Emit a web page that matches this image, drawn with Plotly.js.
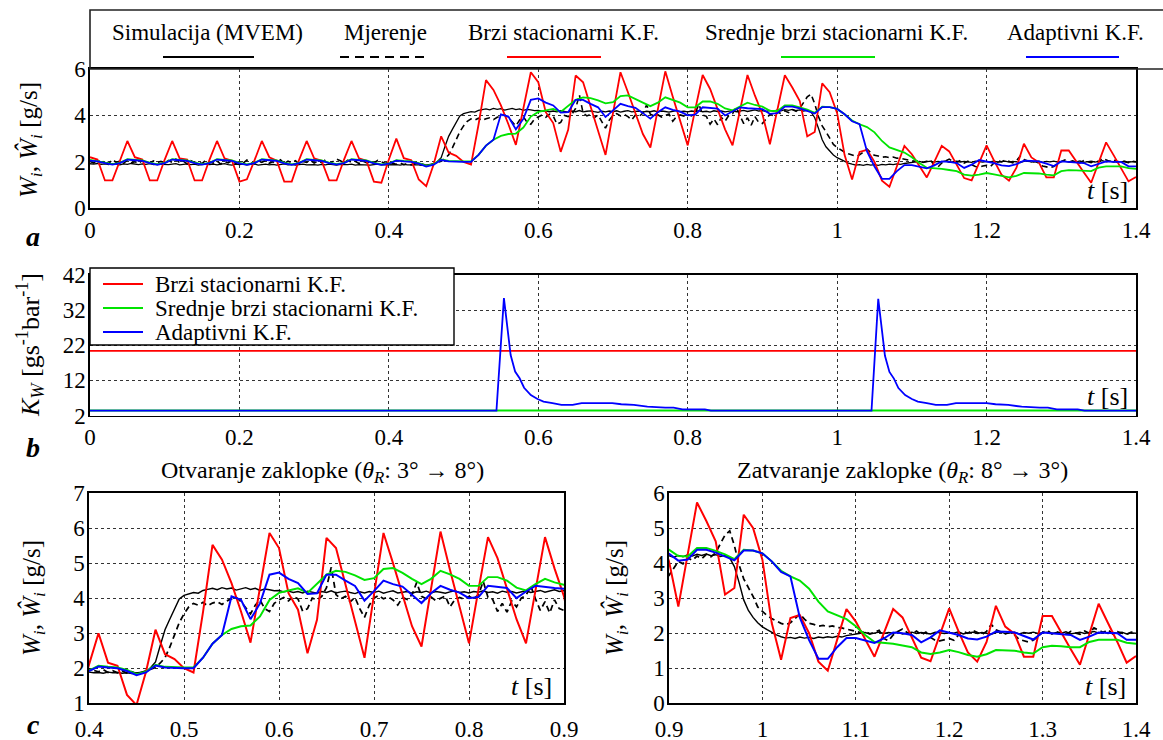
<!DOCTYPE html>
<html><head><meta charset="utf-8">
<script src="https://cdn.plot.ly/plotly-3.0.1.min.js"></script>
<style>html,body{margin:0;padding:0;background:#fff;} #chart{width:1163px;height:740px;}</style>
</head><body><div id="chart"></div>
<script>
// ---------- DATA ----------
// Simulation (MVEM), sampled every 0.005 s from t = 0 to 1.4 s
const simMVEM = [
1.92,1.90,1.93,1.89,1.91,1.88,1.92,1.90,1.87,1.91,1.89,1.93,1.90,1.88,1.91,1.89,1.92,1.88,1.90,1.89,
1.91,1.88,1.90,1.92,1.87,1.89,1.91,1.88,1.90,1.86,1.89,1.91,1.88,1.90,1.87,1.89,1.92,1.88,1.86,1.90,
1.88,1.90,1.87,1.89,1.91,1.86,1.88,1.90,1.87,1.89,1.86,1.88,1.91,1.87,1.89,1.86,1.88,1.90,1.87,1.89,
1.88,1.86,1.89,1.87,1.90,1.88,1.86,1.89,1.87,1.88,1.90,1.86,1.88,1.87,1.89,1.86,1.88,1.90,1.87,1.88,
1.89,1.87,1.88,1.86,1.89,1.87,1.88,1.86,1.87,1.85,1.86,1.88,1.90,2.02,2.18,2.65,3.10,3.40,3.70,3.98,
4.08,4.12,4.16,4.14,4.22,4.25,4.28,4.24,4.30,4.26,4.29,4.23,4.27,4.30,4.25,4.28,4.22,4.26,4.24,4.21,
4.22,4.18,4.20,4.16,4.19,4.15,4.20,4.17,4.14,4.19,4.16,4.21,4.15,4.18,4.20,4.16,4.13,4.18,4.15,4.19,
4.16,4.20,4.14,4.18,4.21,4.15,4.17,4.19,4.14,4.18,4.16,4.20,4.15,4.19,4.17,4.14,4.18,4.21,4.16,4.18,
4.15,4.19,4.17,4.21,4.16,4.18,4.14,4.20,4.17,4.19,4.15,4.18,4.21,4.16,4.19,4.22,4.17,4.20,4.24,4.19,
4.21,4.17,4.22,4.18,4.24,4.20,4.25,4.22,4.26,4.21,4.24,4.19,4.22,4.15,3.90,3.45,2.95,2.65,2.45,2.30,
2.18,2.10,2.02,1.95,1.90,1.86,1.88,1.85,1.89,1.86,1.88,1.85,1.89,1.87,1.90,1.88,1.91,1.89,1.93,1.95,
1.97,1.99,2.02,1.98,2.01,2.03,1.99,2.02,2.00,2.04,1.98,2.01,2.03,1.99,2.02,2.00,1.98,2.03,2.01,1.99,
2.02,2.00,2.04,1.98,2.01,2.03,1.99,2.02,2.00,1.97,2.02,2.04,1.99,2.01,2.03,1.98,2.02,2.00,2.03,1.99,
2.01,2.03,1.99,2.02,2.00,2.04,1.98,2.01,2.03,1.99,2.02,2.05,2.00,2.03,1.99,2.02,2.00,2.03,1.98,2.01,
2.00];
// Measurement (Mjerenje), sampled every 0.005 s
const measured = [
2.02,1.95,2.08,1.97,2.05,1.92,2.10,1.98,2.03,1.94,2.07,1.96,2.01,1.93,2.06,1.99,1.95,2.04,1.97,2.02,
1.94,2.06,1.98,2.12,1.96,2.03,1.91,2.05,1.97,2.00,1.93,2.07,1.99,1.95,2.04,1.90,2.02,1.96,2.05,1.93,
2.01,1.95,2.08,1.97,1.92,2.04,1.98,2.06,1.94,2.00,1.96,2.09,1.93,2.03,1.97,2.05,1.91,2.02,1.98,2.06,
1.95,2.03,1.97,2.08,1.94,2.01,2.12,2.05,1.96,2.07,1.98,2.02,1.93,2.04,1.97,2.00,1.95,2.06,1.99,1.94,
1.98,1.93,1.90,1.96,1.88,1.93,1.87,1.92,1.86,1.90,1.85,1.88,1.92,1.96,2.02,2.15,2.30,2.60,2.95,3.30,
3.55,3.75,3.85,3.80,3.88,3.78,3.86,3.90,3.82,3.92,3.98,4.02,3.90,3.72,3.55,3.80,3.95,3.70,3.62,3.85,
3.95,4.02,3.92,4.05,3.98,3.62,3.70,4.00,3.95,4.05,4.30,4.88,4.10,3.98,4.05,3.90,4.02,3.70,3.45,3.80,
4.00,4.08,3.98,4.04,3.95,3.80,4.02,3.96,4.10,4.45,4.05,3.98,4.03,3.93,4.00,4.06,3.75,3.95,4.02,3.97,
4.05,3.98,4.10,4.48,4.02,3.96,3.62,3.85,3.60,3.92,3.75,4.00,4.08,4.35,3.98,3.65,3.90,3.58,3.95,3.70,
3.65,3.85,4.05,3.98,4.15,4.08,4.20,4.12,4.25,4.18,4.30,4.55,4.80,4.92,4.50,3.95,3.55,3.30,3.05,2.75,
2.62,2.50,2.42,2.35,2.28,2.24,2.30,2.42,2.55,2.40,2.28,2.25,2.20,2.22,2.18,2.21,2.16,2.15,2.12,2.10,
2.06,2.02,2.05,1.98,2.03,2.08,1.85,1.78,1.95,2.05,2.12,2.02,1.98,2.06,1.95,2.03,1.88,1.80,1.78,1.82,
1.85,1.80,1.95,2.05,2.00,2.08,2.02,1.96,2.05,2.25,2.10,2.03,1.98,2.02,1.95,1.82,1.78,1.75,1.80,1.92,
2.02,2.08,1.98,2.04,2.00,1.96,2.05,2.02,1.97,2.06,2.00,2.15,2.08,2.02,2.10,1.98,2.04,2.00,1.97,2.03,
2.00];
// Fast stationary KF estimate, every 0.01 s
const fastKF = [
2.2,2.1,1.2,1.2,2.05,2.9,2.2,2.1,1.2,1.2,
2.1,2.9,2.15,2.1,1.2,1.2,2.1,2.9,2.15,2.05,
1.15,1.25,2.05,2.9,2.2,2.05,1.15,1.15,2.1,2.9,
2.15,2.05,1.2,1.2,2.1,2.9,2.15,2.05,1.15,1.1,
2.1,3.0,2.16,2.07,1.24,0.95,1.9,3.1,2.4,2.26,
2.0,1.88,3.6,5.52,5.1,4.43,3.62,2.73,4.3,5.86,
5.43,4.14,3.67,2.43,3.38,5.72,5.43,4.4,3.35,2.3,
4.1,5.86,5.0,4.1,3.2,2.62,4.25,5.9,4.8,3.75,
2.71,4.25,5.74,5.14,4.3,3.4,2.71,4.25,5.74,4.85,
4.05,2.76,4.2,5.73,5.2,4.62,3.1,3.29,5.38,5.0,
4.1,2.29,1.24,2.43,2.52,2.0,1.19,0.93,1.81,2.69,
2.33,1.85,1.33,2.0,2.69,2.45,1.85,1.3,1.2,1.95,
2.71,2.05,1.45,1.19,1.75,2.78,2.19,1.98,1.33,1.33,
2.49,2.49,2.0,1.55,1.1,2.0,2.84,2.29,1.75,1.16,
1.35];
// Medium-fast stationary KF estimate, every 0.01 s
const mediumKF = [
2.08,2.04,1.97,1.90,1.96,2.12,2.09,2.06,1.97,1.89,
1.96,2.12,2.09,2.06,1.97,1.90,1.96,2.12,2.09,2.06,
1.96,1.89,1.96,2.12,2.09,2.06,1.96,1.89,1.96,2.12,
2.09,2.06,1.97,1.90,1.96,2.12,2.09,2.06,1.96,1.89,
1.93,2.07,2.04,2.02,1.95,1.83,1.90,2.10,2.04,2.02,
2.02,2.02,2.30,2.70,2.95,3.12,3.20,3.22,3.48,3.95,
4.15,4.22,4.28,4.15,4.42,4.67,4.78,4.75,4.65,4.52,
4.57,4.83,4.86,4.72,4.55,4.40,4.55,4.78,4.68,4.55,
4.35,4.35,4.60,4.60,4.50,4.30,4.22,4.40,4.55,4.45,
4.38,4.20,4.19,4.43,4.43,4.35,4.25,4.11,4.38,4.36,
4.28,4.05,3.78,3.62,3.50,3.27,2.90,2.62,2.50,2.40,
2.20,1.95,1.75,1.73,1.70,1.65,1.60,1.45,1.41,1.45,
1.52,1.46,1.38,1.33,1.40,1.52,1.51,1.50,1.45,1.42,
1.60,1.64,1.63,1.60,1.60,1.75,1.81,1.81,1.81,1.73,
1.70];
// Adaptive KF estimate, every 0.01 s
const adaptiveKF = [
2.05,2.02,1.95,1.88,1.95,2.10,2.07,2.04,1.95,1.87,
1.95,2.10,2.07,2.04,1.95,1.88,1.95,2.10,2.07,2.04,
1.94,1.87,1.95,2.10,2.07,2.04,1.94,1.87,1.95,2.10,
2.07,2.04,1.95,1.88,1.95,2.10,2.07,2.04,1.94,1.87,
1.92,2.05,2.02,2.00,1.92,1.80,1.88,2.08,2.02,2.00,
2.00,2.00,2.30,2.70,2.95,4.05,3.95,3.40,3.85,4.67,
4.73,4.55,4.43,4.12,4.14,4.67,4.67,4.50,4.35,3.93,
4.20,4.50,4.40,4.33,4.10,3.86,4.14,4.35,4.24,4.16,
4.00,4.03,4.35,4.33,4.29,4.00,4.19,4.35,4.31,4.29,
4.27,4.07,4.10,4.38,4.38,4.30,4.20,4.08,4.36,4.36,
4.28,4.05,3.75,3.62,2.45,1.80,1.27,1.27,1.60,1.86,
1.86,1.80,1.72,1.85,2.02,2.00,1.95,1.74,1.88,2.08,
2.02,1.95,1.85,1.82,1.90,2.05,2.04,2.02,1.92,1.82,
2.02,2.00,1.98,1.95,1.81,1.90,2.02,2.00,2.00,1.81,
1.81];
// Panel b: filter gains K_W
const gainT = [0,0.544,0.554,0.563,0.569,0.575,0.581,0.590,0.599,0.607,0.619,0.631,0.646,0.658,0.699,0.711,0.728,0.746,0.770,0.781,0.793,0.823,0.831,
  1.046,1.055,1.064,1.070,1.076,1.082,1.091,1.100,1.108,1.120,1.132,1.147,1.159,1.200,1.212,1.229,1.247,1.271,1.282,1.294,1.322,1.331,1.4];
const gainAdaptive = [3.4,3.4,35.4,19.2,14.5,12.6,9.9,7.8,6.7,5.95,5.5,5.0,5.0,5.55,5.55,5.2,5.0,4.5,4.24,4.24,3.76,3.76,3.4,
  3.4,35.2,19.0,14.4,12.5,9.8,7.8,6.7,5.95,5.5,5.0,5.0,5.55,5.55,5.2,5.0,4.5,4.24,4.24,3.76,3.76,3.4,3.4];
const gainConstT = [0, 1.4];
const gainFast = [20.4, 20.4];
const gainMedium = [3.4, 3.4];

// tick values
const ticksT = [0,0.2,0.4,0.6,0.8,1,1.2,1.4];
const ticksWa = [0,2,4,6];
const ticksK = [2,12,22,32,42];
const ticksTc1 = [0.4,0.5,0.6,0.7,0.8,0.9];
const ticksWc1 = [1,2,3,4,5,6,7];
const ticksTc2 = [0.9,1,1.1,1.2,1.3,1.4];
const ticksWc2 = [0,1,2,3,4,5,6];

const legendNames = ['Simulacija (MVEM)','Mjerenje','Brzi stacionarni K.F.','Srednje brzi stacionarni K.F.','Adaptivni K.F.'];

// ---------- STYLE ----------
const W = 1163, H = 740;
const FONT = 'Liberation Serif';
const RED = '#ff0000', GREEN = '#00e400', BLUE = '#0000ff';
const px = v => v / W;
const py = v => 1 - v / H;

function seriesTraces(xa, ya, k) {
  const base = {type:'scatter', mode:'lines', xaxis:xa, yaxis:ya, showlegend:false, hoverinfo:'skip'};
  return [
    Object.assign({}, base, {x0:0, dx:0.005, y:simMVEM, name:legendNames[0], line:{color:'#000', width:1.3*k}}),
    Object.assign({}, base, {x0:0, dx:0.005, y:measured, name:legendNames[1], line:{color:'#000', width:1.6*k, dash:'6px,4px'}}),
    Object.assign({}, base, {x0:0, dx:0.01, y:fastKF, name:legendNames[2], line:{color:RED, width:1.8*k}}),
    Object.assign({}, base, {x0:0, dx:0.01, y:mediumKF, name:legendNames[3], line:{color:GREEN, width:1.8*k}}),
    Object.assign({}, base, {x0:0, dx:0.01, y:adaptiveKF, name:legendNames[4], line:{color:BLUE, width:1.8*k}})
  ];
}

const traces = [].concat(
  seriesTraces('x','y',1),
  [
    {type:'scatter', mode:'lines', x:gainConstT, y:gainFast, xaxis:'x2', yaxis:'y2', showlegend:false, hoverinfo:'skip', line:{color:RED, width:1.8}},
    {type:'scatter', mode:'lines', x:gainConstT, y:gainMedium, xaxis:'x2', yaxis:'y2', showlegend:false, hoverinfo:'skip', line:{color:GREEN, width:2}},
    {type:'scatter', mode:'lines', x:gainT, y:gainAdaptive, xaxis:'x2', yaxis:'y2', showlegend:false, hoverinfo:'skip', line:{color:BLUE, width:1.8}}
  ],
  seriesTraces('x3','y3',1.1),
  seriesTraces('x4','y4',1.1)
);

function axis(domain, range, tickvals, anchor, standoff) {
  return {
    domain: domain, range: range, tickvals: tickvals, anchor: anchor,
    showline: true, mirror: true, linecolor: '#000', linewidth: 1.6,
    showgrid: true, gridcolor: '#333', griddash: 'dot', gridwidth: 1,
    zeroline: false, ticks: '', ticklabelstandoff: standoff,
    tickfont: {family: FONT, size: 23, color: '#000'},
    automargin: false, fixedrange: true
  };
}

const ya = [py(208.3), py(69)];
const yb = [py(415.5), py(275)];
const yc = [py(703.3), py(493)];
const xab = [px(90), px(1136)];

const layout = {
  width: W, height: H,
  margin: {l:0, r:0, t:0, b:0, pad:0},
  paper_bgcolor: '#fff', plot_bgcolor: '#fff',
  font: {family: FONT, color: '#000', size: 23},
  showlegend: false,
  xaxis: axis(xab, [0,1.4], ticksT, 'y', 0),
  yaxis: axis(ya, [0,6], ticksWa, 'x', -2),
  xaxis2: axis(xab, [0,1.4], ticksT, 'y2', 0),
  yaxis2: axis(yb, [2,42], ticksK, 'x2', -2),
  xaxis3: axis([px(89), px(564)], [0.4,0.9], ticksTc1, 'y3', 4),
  yaxis3: axis(yc, [1,7], ticksWc1, 'x3', -2),
  xaxis4: axis([px(669), px(1136)], [0.9,1.4], ticksTc2, 'y4', 4),
  yaxis4: axis(yc, [0,6], ticksWc2, 'x4', -2),
  shapes: [],
  annotations: []
};

function ann(text, x, y, opts) {
  return Object.assign({text: text, x: px(x), y: py(y), xref:'paper', yref:'paper',
    xanchor:'center', yanchor:'middle', showarrow:false,
    font:{family:FONT, size:23, color:'#000'}}, opts || {});
}
function fnt(size) { return {family:FONT, size:size, color:'#000'}; }
function hline(x0, x1, y, color, dash, layer) {
  return {type:'line', xref:'paper', yref:'paper', x0:px(x0), x1:px(x1), y0:py(y), y1:py(y),
    line:{color:color, width:2, dash:dash || 'solid'}, layer: layer || 'above'};
}

// Top legend (panel a): text above line samples
layout.shapes.push({type:'rect', xref:'paper', yref:'paper', x0:px(90), x1:px(1175), y0:py(69), y1:py(10),
  line:{color:'#222', width:1.6}, fillcolor:'rgba(0,0,0,0)', layer:'above'});
const topLegendCenters = [207, 385, 563, 836, 1075];
const topLegendLines = [[163,254,'#000','solid'],[340,427,'#000','9px,6px'],[507,601,RED,'solid'],[781,875,GREEN,'solid'],[1026,1119,BLUE,'solid']];
legendNames.forEach((n, i) => {
  layout.annotations.push(ann(n, topLegendCenters[i], 32));
  const l = topLegendLines[i];
  layout.shapes.push(hline(l[0], l[1], 57, l[2], l[3]));
});

// Panel b legend
layout.shapes.push({type:'rect', xref:'paper', yref:'paper', x0:px(90), x1:px(454), y0:py(345), y1:py(268),
  line:{color:'#000', width:1.4}, fillcolor:'#fff', layer:'above'});
const bRows = [284, 308, 332];
const bColors = [RED, GREEN, BLUE];
[legendNames[2], legendNames[3], legendNames[4]].forEach((n, i) => {
  layout.shapes.push(hline(103, 143, bRows[i], bColors[i]));
  layout.annotations.push(ann(n, 153, bRows[i], {xanchor:'left'}));
});

// axis titles
const wTitle = '<i>W</i><sub><i>i</i></sub>, <i>Ŵ</i><sub><i>i</i></sub> [g/s]';
layout.annotations.push(ann(wTitle, 30, 140, {textangle:-90, font:fnt(25)}));
layout.annotations.push(ann('<i>K</i><sub><i>W</i></sub> [gs<sup>-1</sup>bar<sup>-1</sup>]', 30, 345, {textangle:-90, font:fnt(26)}));
layout.annotations.push(ann(wTitle, 33, 598, {textangle:-90, font:fnt(25)}));
layout.annotations.push(ann(wTitle, 616, 598, {textangle:-90, font:fnt(25)}));

// t [s] labels
const tLabel = '<i>t</i> [s]';
[[1107,191],[1107,396],[531,686],[1105,686]].forEach(p => {
  layout.annotations.push(ann(tLabel, p[0], p[1], {font:fnt(26)}));
});

// sub-panel titles
layout.annotations.push(ann('Otvaranje zaklopke (<i>θ</i><sub><i>R</i></sub>: 3° → 8°)', 322, 472, {font:fnt(24)}));
layout.annotations.push(ann('Zatvaranje zaklopke (<i>θ</i><sub><i>R</i></sub>: 8° → 3°)', 902, 472, {font:fnt(24)}));

// panel letters
[['a',33,236],['b',33,447],['c',33,724]].forEach(p => {
  layout.annotations.push(ann('<b><i>' + p[0] + '</i></b>', p[1], p[2], {font:fnt(28)}));
});

Plotly.newPlot('chart', traces, layout, {displayModeBar:false, staticPlot:true});
</script>
</body></html>
